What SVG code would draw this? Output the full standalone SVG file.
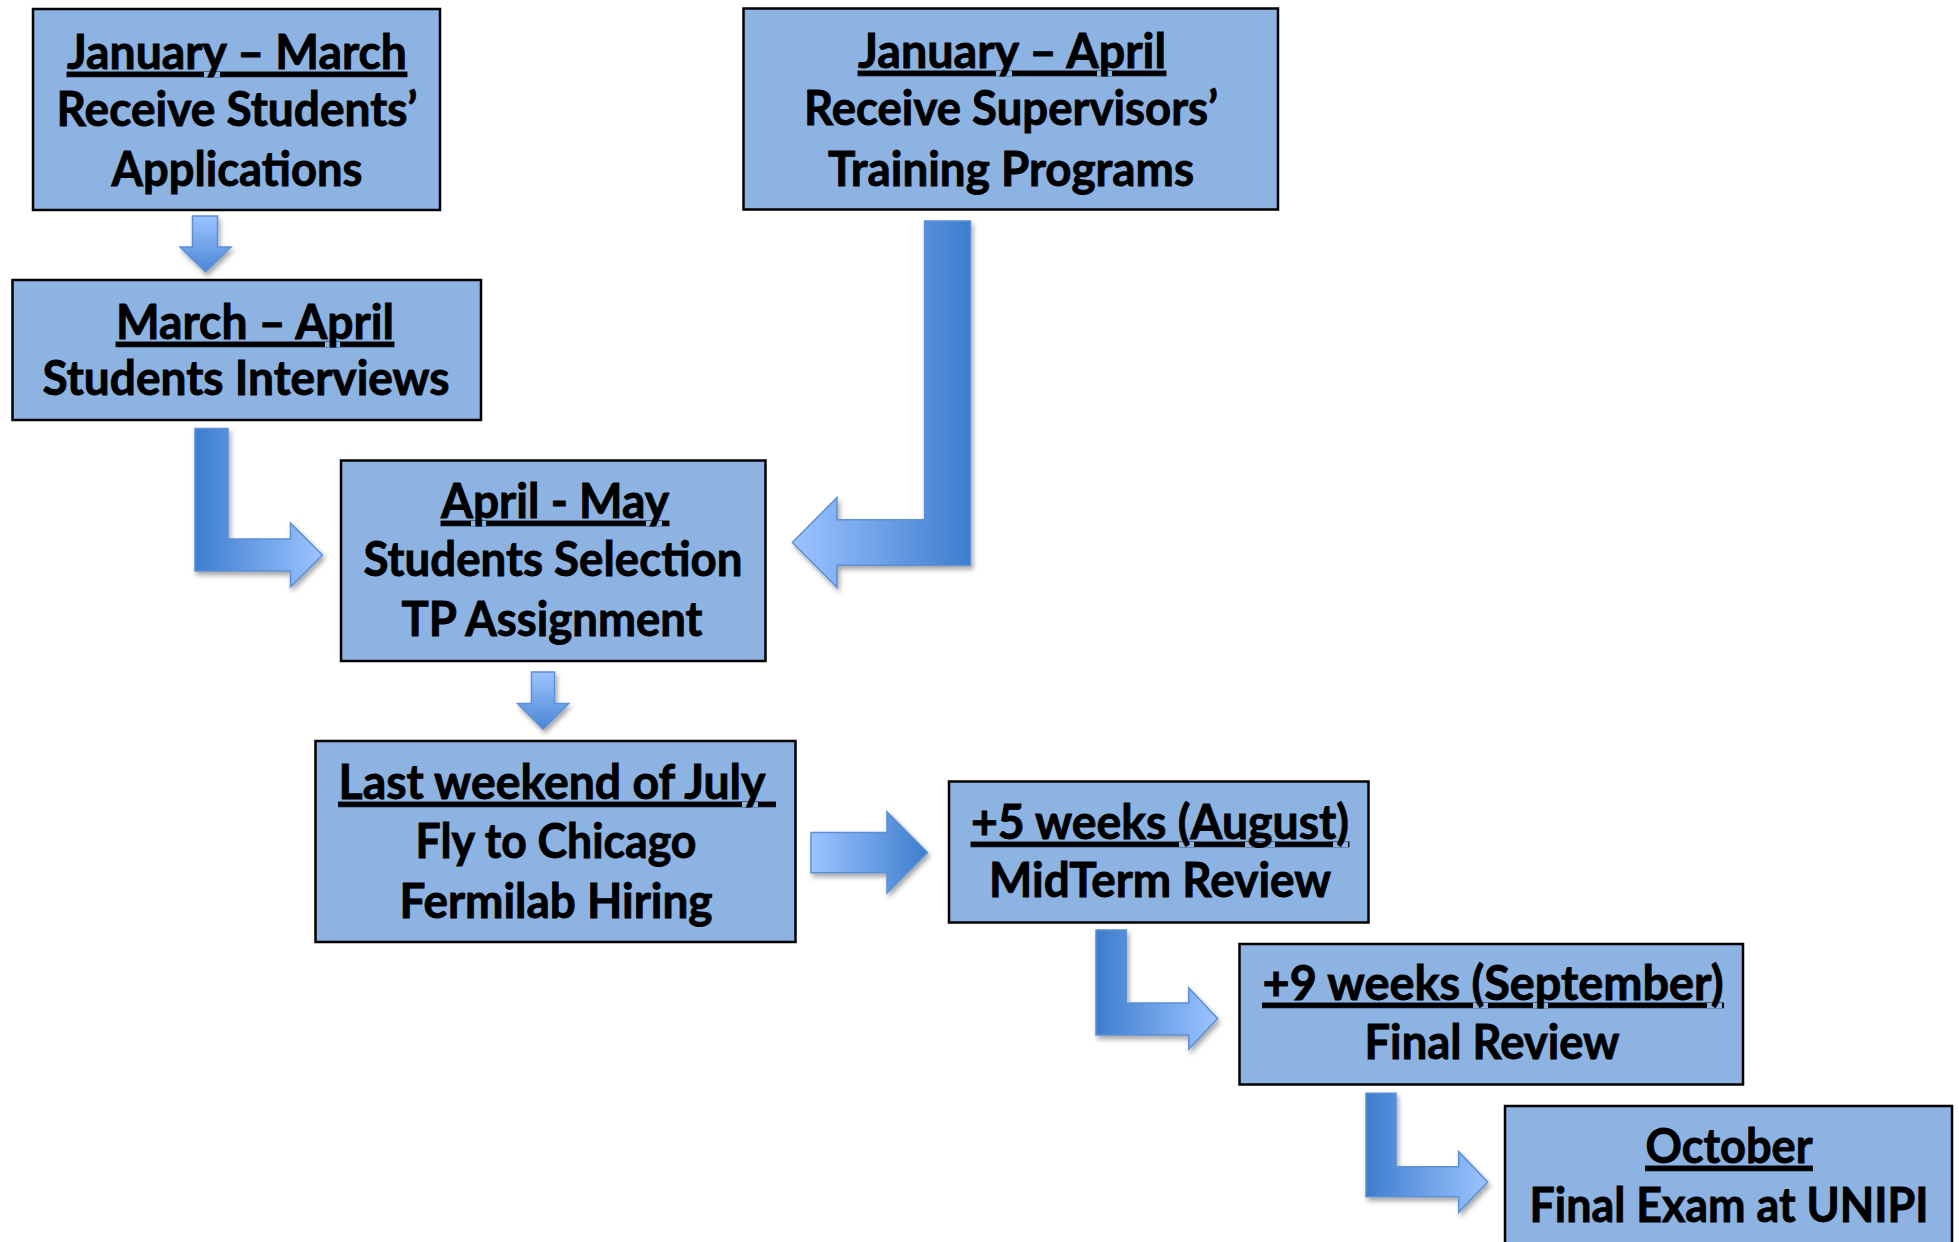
<svg xmlns="http://www.w3.org/2000/svg" width="1959" height="1242" viewBox="0 0 1959 1242">
<style>
.box{fill:#8DB3E2;stroke:#000;stroke-width:2.5}
.t{font-family:Lato,"Noto Sans","Liberation Sans",sans-serif;font-weight:700;font-size:48px;fill:#000;stroke:#000;stroke-width:0.9;text-anchor:middle}
.u{text-decoration:underline;text-decoration-skip-ink:none;text-decoration-thickness:3px}
.arr{stroke:#5B8FD6;stroke-width:1.5;stroke-linejoin:miter;filter:url(#sh)}
</style>
<defs>
<filter id="sh" x="-20%" y="-20%" width="150%" height="150%">
<feDropShadow dx="2" dy="3.5" stdDeviation="2.5" flood-color="#000" flood-opacity="0.35"/>
</filter>
<linearGradient id="gDown" x1="0" y1="0" x2="0" y2="1">
<stop offset="0" stop-color="#9CC4FF"/><stop offset="1" stop-color="#4A86D4"/>
</linearGradient>
<linearGradient id="gRight" x1="0" y1="0" x2="1" y2="0">
<stop offset="0" stop-color="#3D7DCE"/><stop offset="1" stop-color="#9CC4FF"/>
</linearGradient>
<linearGradient id="gLeft" x1="0" y1="0" x2="1" y2="0">
<stop offset="0" stop-color="#9CC4FF"/><stop offset="1" stop-color="#3D7DCE"/>
</linearGradient>
</defs>

<g id="connectors">
<polygon class="arr" fill="url(#gDown)" points="192.5,216 217.5,216 217.5,247 231,247 205.5,272 180,247 192.5,247"/>
<polygon class="arr" fill="url(#gRight)" points="195,428.5 228,428.5 228,539 290.5,539 290.5,523 322.5,555 290.5,587 290.5,571 195,571"/>
<polygon class="arr" fill="url(#gLeft)" points="924.6,221 970.5,221 970.5,565.3 837,565.3 837,587.5 792.4,542.5 837,497.5 837,519.7 924.6,519.7"/>
<polygon class="arr" fill="url(#gDown)" points="531.5,672 554.6,672 554.6,703.6 568.7,703.6 543.1,729.3 517.5,703.6 531.5,703.6"/>
<polygon class="arr" fill="url(#gLeft)" points="811,832.5 887,832.5 887,811.7 927.5,852.5 887,893 887,872.7 811,872.7"/>
<polygon class="arr" fill="url(#gRight)" points="1096,930 1126.4,930 1126.4,1003 1188.8,1003 1188.8,988 1217.6,1018.5 1188.8,1049 1188.8,1035 1096,1035"/>
<polygon class="arr" fill="url(#gRight)" points="1366,1093.3 1396,1093.3 1396,1166.7 1458.7,1166.7 1458.7,1151.7 1487.7,1182 1458.7,1212.3 1458.7,1196.7 1366,1196.7"/>
</g>

<g id="n1">
<rect class="box" x="33" y="9" width="407" height="201"/>
<text class="t u" x="237" y="69" textLength="340" lengthAdjust="spacingAndGlyphs">January – March</text>
<text class="t" x="237" y="126" textLength="361" lengthAdjust="spacingAndGlyphs">Receive Students’</text>
<text class="t" x="237" y="186" textLength="251" lengthAdjust="spacingAndGlyphs">Applications</text>
</g>

<g id="n2">
<rect class="box" x="743.5" y="8.5" width="534.5" height="201"/>
<text class="t u" x="1012" y="68" textLength="308" lengthAdjust="spacingAndGlyphs">January – April</text>
<text class="t" x="1011" y="125" textLength="414" lengthAdjust="spacingAndGlyphs">Receive Supervisors’</text>
<text class="t" x="1011" y="186" textLength="366" lengthAdjust="spacingAndGlyphs">Training Programs</text>
</g>

<g id="n3">
<rect class="box" x="12.5" y="280" width="468.5" height="140"/>
<text class="t u" x="255" y="339" textLength="278" lengthAdjust="spacingAndGlyphs">March – April</text>
<text class="t" x="246" y="395" textLength="407" lengthAdjust="spacingAndGlyphs">Students Interviews</text>
</g>

<g id="n4">
<rect class="box" x="341" y="460.5" width="424.5" height="200.5"/>
<text class="t u" x="555" y="518" textLength="228" lengthAdjust="spacingAndGlyphs">April - May</text>
<text class="t" x="553" y="576" textLength="379" lengthAdjust="spacingAndGlyphs">Students Selection</text>
<text class="t" x="552" y="636" textLength="301" lengthAdjust="spacingAndGlyphs">TP Assignment</text>
</g>

<g id="n5">
<rect class="box" x="315.5" y="741" width="480" height="201"/>
<text class="t u" x="338.6" y="799" style="text-anchor:start" xml:space="preserve" textLength="437" lengthAdjust="spacingAndGlyphs">Last weekend of July </text>
<text class="t" x="556" y="858" textLength="281" lengthAdjust="spacingAndGlyphs">Fly to Chicago</text>
<text class="t" x="556" y="918" textLength="313" lengthAdjust="spacingAndGlyphs">Fermilab Hiring</text>
</g>

<g id="n6">
<rect class="box" x="949" y="781.5" width="419.5" height="141"/>
<text class="t u" x="1160" y="839" textLength="378" lengthAdjust="spacingAndGlyphs">+5 weeks (August)</text>
<text class="t" x="1160" y="897" textLength="342" lengthAdjust="spacingAndGlyphs">MidTerm Review</text>
</g>

<g id="n7">
<rect class="box" x="1239.5" y="944" width="503.5" height="140.5"/>
<text class="t u" x="1493" y="1000" textLength="461" lengthAdjust="spacingAndGlyphs">+9 weeks (September)</text>
<text class="t" x="1492" y="1059" textLength="255" lengthAdjust="spacingAndGlyphs">Final Review</text>
</g>

<g id="n8">
<rect class="box" x="1505" y="1106" width="447" height="150"/>
<text class="t u" x="1729" y="1163" textLength="167" lengthAdjust="spacingAndGlyphs">October</text>
<text class="t" x="1729" y="1222" textLength="399" lengthAdjust="spacingAndGlyphs">Final Exam at UNIPI</text>
</g>
</svg>
